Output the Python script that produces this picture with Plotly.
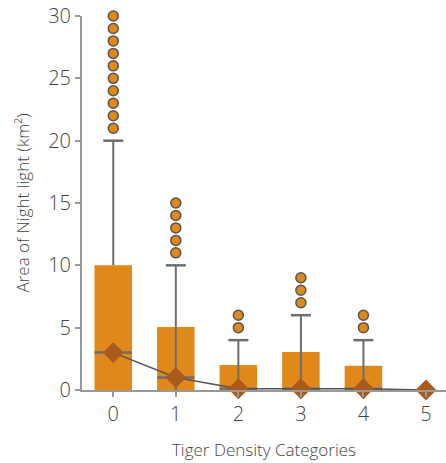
import plotly.graph_objects as go

categories = [0, 1, 2, 3, 4]
q3_values = [10, 5.05, 2, 3.05, 1.95]
medians = [3, 1, 0.1, 0.1, 0.1]
whisker_low = [10, 0, 0, 0, 0]
whisker_high = [20, 10, 4, 6, 4]
outliers = {
    0: [21, 22, 23, 24, 25, 26, 27, 28, 29, 30],
    1: [11, 12, 13, 14, 15],
    2: [5, 6],
    3: [7, 8, 9],
    4: [5, 6],
}
median_cats = [0, 1, 2, 3, 4, 5]
median_line_values = [3, 1, 0.1, 0.1, 0.1, 0]
tick_labels = ["0", "1", "2", "3", "4", "5"]

BAR = "#E0891A"
DIAMOND = "#A85B1C"
GREY = "#6E6E6E"
TEXT = "#444444"
FONT = "Open Sans"

fig = go.Figure()

fig.add_trace(go.Bar(x=categories, y=q3_values, width=0.6, marker=dict(color=BAR, line=dict(width=0)),
                     hoverinfo="skip"))

# whiskers
wx, wy = [], []
for c, lo, hi in zip(categories, whisker_low, whisker_high):
    wx += [c, c, None]
    wy += [lo, hi, None]
fig.add_trace(go.Scatter(x=wx, y=wy, mode="lines", line=dict(color=GREY, width=2), hoverinfo="skip"))

# caps
cx, cy = [], []
for c, hi in zip(categories, whisker_high):
    cx += [c - 0.16, c + 0.16, None]
    cy += [hi, hi, None]
fig.add_trace(go.Scatter(x=cx, y=cy, mode="lines", line=dict(color=GREY, width=2.5), hoverinfo="skip"))

# median lines
mx, my = [], []
for c, m in zip(categories, medians):
    mx += [c - 0.3, c + 0.3, None]
    my += [m, m, None]
fig.add_trace(go.Scatter(x=mx, y=my, mode="lines", line=dict(color=GREY, width=2.5), hoverinfo="skip"))

# median connecting line with diamonds
fig.add_trace(go.Scatter(x=median_cats, y=median_line_values, mode="lines+markers",
                         line=dict(color="#555555", width=1.5),
                         marker=dict(symbol="diamond", size=16, color=DIAMOND), cliponaxis=False))

# outliers
ox, oy = [], []
for c, vals in outliers.items():
    ox += [c] * len(vals)
    oy += vals
fig.add_trace(go.Scatter(x=ox, y=oy, mode="markers",
                         marker=dict(size=10, color=BAR, line=dict(color="#555555", width=1.5)),
                         cliponaxis=False))

fig.update_layout(
    width=446, height=463, showlegend=False,
    margin=dict(l=82, r=0, t=16, b=73),
    plot_bgcolor="white", paper_bgcolor="white",
    font=dict(family=FONT, color=TEXT, weight=300),
    xaxis=dict(range=[-0.5, 5.32], tickvals=median_cats, ticktext=tick_labels,
               showgrid=False, zeroline=False, showline=True, linecolor="#999999", linewidth=2,
               ticks="outside", ticklen=5, tickcolor="#999999", tickwidth=2,
               tickfont=dict(size=20, color=TEXT, weight=300),
               title=dict(text="Tiger Density Categories", font=dict(size=17, color=TEXT, weight=300), standoff=18)),
    yaxis=dict(range=[0, 30], tickvals=[0, 5, 10, 15, 20, 25, 30],
               showgrid=False, zeroline=False, showline=True, linecolor="#999999", linewidth=2,
               ticks="outside", ticklen=5, tickcolor="#999999", tickwidth=2,
               tickfont=dict(size=20, color=TEXT, weight=300),
               title=dict(text="Area of Night light (km²)", font=dict(size=17, color=TEXT, weight=300), standoff=14)),
)

fig.write_html("out.html")
